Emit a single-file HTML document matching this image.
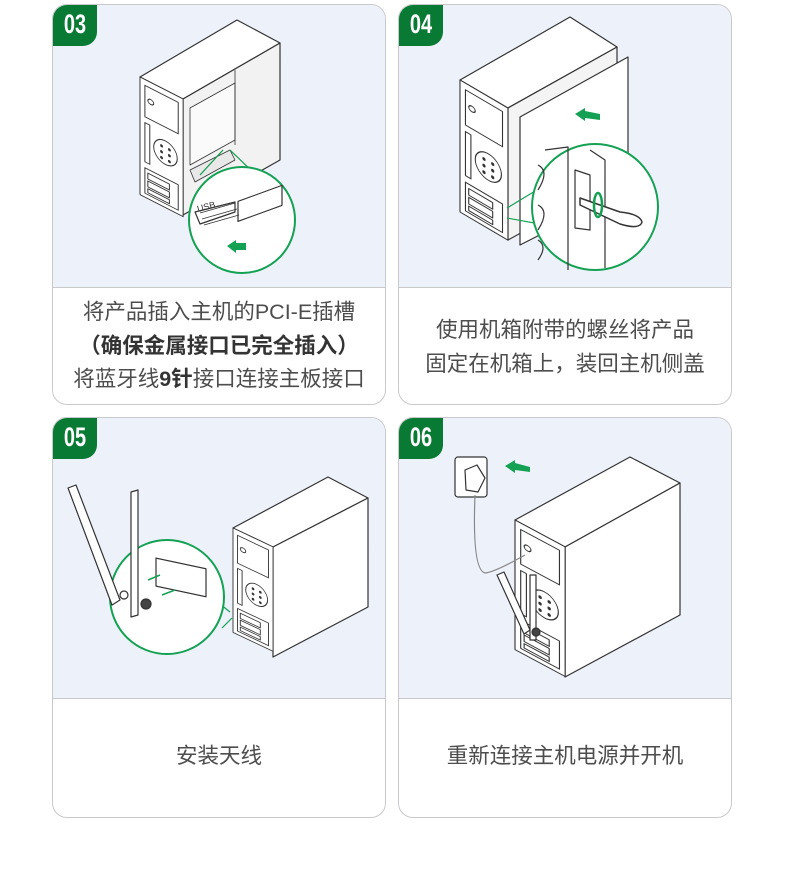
<!DOCTYPE html>
<html><head><meta charset="utf-8"><style>
body{margin:0;width:790px;height:869px;background:#fff;position:relative;overflow:hidden;font-family:"Liberation Sans","Noto Sans CJK SC",sans-serif}
.card{position:absolute;width:334px;height:401px;border:1.5px solid #c9c9cc;border-radius:15px;overflow:hidden;background:#fff;box-sizing:border-box}
.img{position:absolute;left:0;top:0;right:0;background:#edf1fa;border-bottom:1.5px solid #c9c9cc}
.badge{position:absolute;left:0;top:0;width:44px;height:41px;background:#087a34;border-bottom-right-radius:14px}
.badge span{display:block;color:#fff;font-weight:bold;font-size:20px;line-height:41px;text-align:center;transform:scaleY(1.35);font-family:"Liberation Sans Narrow","Liberation Sans",sans-serif}
.txt{position:absolute;left:0;right:0;text-align:center;color:#4d4d4d;font-size:21.5px;line-height:33.5px}
b{color:#333}
svg{position:absolute;left:0;top:0}
</style></head><body>
<div class="card" style="left:52px;top:4px"><div class="img" style="height:282px"></div><div class="badge"><span>03</span></div>
<div class="txt" style="top:291px">将产品插入主机的PCI-E插槽<br><b>（确保金属接口已完全插入）</b><br>将蓝牙线<b>9针</b>接口连接主板接口</div></div>
<div class="card" style="left:398px;top:4px"><div class="img" style="height:282px"></div><div class="badge"><span>04</span></div>
<div class="txt" style="top:309px">使用机箱附带的螺丝将产品<br>固定在机箱上，装回主机侧盖</div></div>
<div class="card" style="left:52px;top:417px"><div class="img" style="height:280px"></div><div class="badge"><span>05</span></div>
<div class="txt" style="top:322px">安装天线</div></div>
<div class="card" style="left:398px;top:417px"><div class="img" style="height:280px"></div><div class="badge"><span>06</span></div>
<div class="txt" style="top:322px">重新连接主机电源并开机</div></div>

<svg width="790" height="869" viewBox="0 0 790 869">
<defs>
<g id="fp" fill="none" stroke="#333" stroke-width="1" >
<rect x="0" y="0" width="44" height="120" fill="#fff"/>
<rect x="5" y="6" width="34" height="32"/>
<ellipse cx="11" cy="20" rx="3" ry="2.5"/>
<rect x="5" y="44" width="5" height="40"/>
<circle cx="26" cy="64" r="12"/>
<circle cx="22" cy="59" r="1" fill="#333"/><circle cx="30" cy="59" r="1" fill="#333"/>
<circle cx="22" cy="65" r="1" fill="#333"/><circle cx="30" cy="65" r="1" fill="#333"/>
<circle cx="22" cy="71" r="1" fill="#333"/><circle cx="30" cy="71" r="1" fill="#333"/>
<rect x="5" y="90" width="34" height="26"/>
<rect x="8" y="94" width="22" height="6"/><rect x="8" y="102" width="22" height="6"/><rect x="8" y="110" width="22" height="4"/>
</g>
</defs>
<g stroke="#333" stroke-width="1.2" fill="#fff" stroke-linejoin="round">
<!-- card1 tower -->
<polygon points="140,77 237,20 280,43 183,99"/>
<polygon points="183,99 280,43 280,160 183,215" fill="#f2f2f2"/>
<polygon points="190,108 235,83 235,140 190,165" fill="#fafafa" stroke-width="0.8"/>
<line x1="235" y1="70" x2="235" y2="145" stroke-width="0.8"/>
<polygon points="190,170 230,150 235,160 195,182" fill="#e8e8e8" stroke-width="0.8"/>
<use href="#fp" transform="matrix(0.98,0.5,0,0.98,140,77)"/>
<line x1="223" y1="150" x2="200" y2="175" stroke="#0a9a4a"/><line x1="230" y1="150" x2="282" y2="200" stroke="#0a9a4a"/>
<circle cx="242" cy="220" r="53" stroke="#14a154" stroke-width="2"/>
<path d="M195,212 l40,-10 v10 l-35,12 z" fill="#fff"/>
<rect x="238" y="200" width="44" height="20" transform="skewY(-20) translate(0,88)" fill="#fff"/>
<path d="M200,213 l35,-10 M202,219 l35,-10 M204,225 l35,-10" stroke-width="0.8"/>
<text x="198" y="212" font-size="9" fill="#333" stroke="none" transform="rotate(-15 198 212)" font-family="Liberation Sans">USB</text>
<!-- card2 tower -->
<polygon points="460,80 570,17 617,47 508,108"/>
<polygon points="508,108 617,47 617,180 508,240" fill="#f4f4f4"/>
<use href="#fp" transform="matrix(1.09,0.64,0,1.1,460,80)"/>
<polygon points="520,117 628,57 628,190 520,245"/>
<line x1="507" y1="208" x2="545" y2="185" stroke="#14a154"/><line x1="507" y1="218" x2="545" y2="225" stroke="#14a154"/>
<circle cx="595" cy="207" r="63" stroke="#14a154" stroke-width="2"/>
<path d="M545,150 L568,147 L568,270 M590,150 L605,160 L605,268 M575,170 L590,175 L590,230 L575,228 Z" fill="none"/>
<path d="M538,165 q12,6 0,25 M538,205 q12,6 0,25 M538,240 q10,6 0,20" fill="none"/>
<path d="M580,198 L620,212 q20,2 22,10 q-2,8 -22,2 L580,205 z" fill="#fff" stroke-width="1.5"/>
<ellipse cx="598" cy="205" rx="4" ry="12" fill="none" stroke="#14a154" stroke-width="2.5"/>
<!-- card3 tower -->
<polygon points="233,528 328,477 368,498 273,547"/>
<polygon points="273,547 368,498 368,607 273,657"/>
<use href="#fp" transform="matrix(0.91,0.43,0,0.87,233,528)"/>
<line x1="230" y1="612" x2="215" y2="600" stroke="#14a154"/><line x1="232" y1="618" x2="222" y2="628" stroke="#14a154"/>
<circle cx="167" cy="597" r="57" stroke="#14a154" stroke-width="2"/>
<rect x="156" y="560" width="50" height="28" transform="skewY(12) translate(0,-35)" fill="#fff"/>
<polygon points="68,488 76,485 120,600 112,605" />
<polygon points="131,492 138,490 138,615 131,617"/>
<circle cx="146" cy="604" r="5" fill="#444"/><circle cx="124" cy="595" r="4" fill="#fff"/>
<!-- card4 tower -->
<polygon points="515,520 630,457 680,483 565,547"/>
<polygon points="565,547 680,483 680,615 565,677"/>
<use href="#fp" transform="matrix(1.14,0.61,0,1.08,515,520)"/>
<rect x="455" y="457" width="32" height="40" rx="3"/>
<polygon points="465,470 477,465 485,478 478,492 466,490"/>
<path d="M475,495 Q472,570 485,573 Q495,572 525,555" fill="none" stroke="#888"/>
<polygon points="497,575 504,572 530,630 524,634"/>
<polygon points="530,575 536,575 536,640 530,640"/>
<circle cx="536" cy="632" r="4" fill="#444"/>
</g>
<g fill="#14a154">
<polygon points="227,246 236,240 236,243 246,243 246,250 236,250 236,253"/>
<polygon points="575,114 585,108 585,111 600,114 600,120 585,118 585,121"/>
<polygon points="505,466 515,460 515,463 530,467 530,472 515,470 515,473"/>
</g>
<g stroke="#14a154" stroke-width="1.5"><line x1="148" y1="580" x2="160" y2="575"/><line x1="162" y1="595" x2="175" y2="590"/></g>
</svg>
</body></html>
